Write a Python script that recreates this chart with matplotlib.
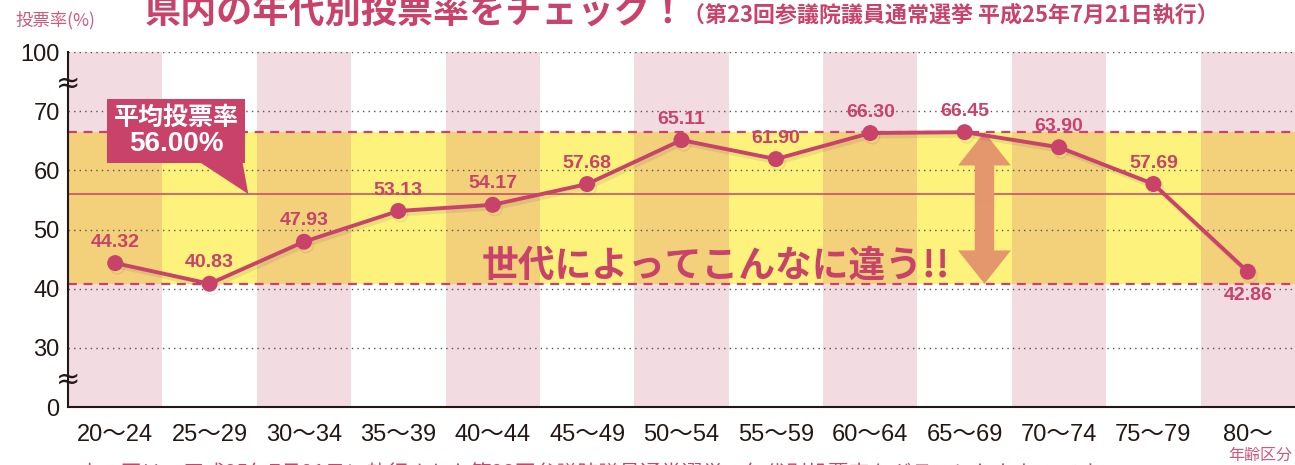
import numpy as np
import matplotlib.pyplot as plt
from matplotlib import patheffects as pe
from matplotlib.patches import FancyArrowPatch
from matplotlib.offsetbox import TextArea, VPacker, AnnotationBbox

plt.rcParams['font.family'] = ['Liberation Sans', 'Noto Sans CJK JP']

# data
ages = ['20〜24', '25〜29', '30〜34', '35〜39', '40〜44', '45〜49', '50〜54',
        '55〜59', '60〜64', '65〜69', '70〜74', '75〜79', '80〜']
turnout = [44.32, 40.83, 47.93, 53.13, 54.17, 57.68, 65.11,
           61.90, 66.30, 66.45, 63.90, 57.69, 42.86]
average = 56.00
yticks = [0, 30, 40, 50, 60, 70, 100]

MAG = '#c8426a'
PINK = '#f3dbe2'
YEL = '#fdf37c'
ORG = '#f3d07a'
INK = '#231815'


# broken y axis: each tick gets the same height
def fwd(v):
    return np.interp(v, yticks, np.arange(len(yticks)))


def inv(p):
    return np.interp(p, np.arange(len(yticks)), yticks)


fig = plt.figure(figsize=(12.95, 4.65), dpi=100)
ax = fig.add_axes([68 / 1295, 1 - 407 / 465, 1 - 68 / 1295, (407 - 52) / 465])
ax.set_yscale('function', functions=(fwd, inv))

x = np.arange(len(ages))
lo, hi = min(turnout), max(turnout)

# stripes
stripe = [PINK if i % 2 == 0 else 'white' for i in x]
band = [ORG if i % 2 == 0 else YEL for i in x]
ax.bar(x, 100, width=1.0, color=stripe, zorder=0.5)
ax.bar(x, hi - lo, bottom=lo, width=1.0, color=band, zorder=0.6)

ax.set_xlim(-0.5, len(ages) - 0.5)
ax.set_ylim(0, 100)
ax.set_yticks(yticks)
ax.set_xticks(x, ages)
ax.tick_params(length=0, labelsize=17, colors=INK)
ax.tick_params(axis='y', pad=6)
ax.tick_params(axis='x', pad=12)
ax.set_axisbelow('line')
ax.grid(axis='y', linestyle=(0, (1, 3)), color='#555555', linewidth=1)
for s in ['top', 'right']:
    ax.spines[s].set_visible(False)
for s in ['left', 'bottom']:
    ax.spines[s].set_linewidth(1.5)
    ax.spines[s].set_color(INK)

# band edges and average
for v in (lo, hi):
    ax.axhline(v, color=MAG, linestyle=(0, (4, 3)), linewidth=1.6, zorder=1.7)
ax.axhline(average, color=MAG, linewidth=1.1, zorder=1.7)

# axis break marks
for v in (84, 13.7):
    ax.text(-0.5, v, '≈', ha='center', va='center', fontsize=21, color=INK,
            family='DejaVu Sans', clip_on=False, zorder=6)

# main line
ax.plot(x, turnout, '-o', color=MAG, lw=2.8, markersize=10.5, zorder=3,
        path_effects=[pe.SimpleLineShadow(offset=(1.5, -2.5), shadow_color='#555555', alpha=0.12),
                      pe.Normal()])

for i, v in enumerate(turnout):
    dy = -17 if i == len(turnout) - 1 else 15
    ax.annotate(f'{v:.2f}', (x[i], v), xytext=(0, dy), textcoords='offset points',
                ha='center', va='center', fontsize=14, fontweight='bold',
                color=MAG, zorder=4)

# average callout
t1 = TextArea('平均投票率', textprops=dict(color='white', fontsize=18, fontweight='bold'))
t2 = TextArea(f'{average:.2f}%', textprops=dict(color='white', fontsize=20, fontweight='bold'))
pack = VPacker(children=[t1, t2], align='center', pad=0, sep=1)
ab = AnnotationBbox(pack, (1.41, average), xybox=(0.645, 66.6), xycoords='data',
                    boxcoords='data', frameon=True, pad=0.45,
                    bboxprops=dict(boxstyle='square,pad=0.45', fc=MAG, ec='none'),
                    arrowprops=dict(arrowstyle='wedge,tail_width=1.4,shrink_factor=0.5',
                                    fc=MAG, ec='none', relpos=(0.8, 0.3), patchA=None,
                                    shrinkA=0, shrinkB=0, mutation_scale=20),
                    zorder=5)
ax.add_artist(ab)

# spread arrow between min and max
mid = (lo + hi) / 2
for end in (hi, lo):
    ax.add_patch(FancyArrowPatch((9.21, mid), (9.21, end),
                                 arrowstyle='simple,head_length=24,head_width=38,tail_width=14',
                                 mutation_scale=1, color='#e4966c', lw=0, zorder=2.5,
                                 shrinkA=0, shrinkB=0))

ax.text(6.36, 43.8, '世代によってこんなに違う!!', ha='center', va='center',
        fontsize=26.5, fontweight='bold', color=MAG, zorder=4,
        family=['Noto Sans CJK JP'])

# titles and notes
fig.text(145 / 1295, 1 - 12 / 465, '県内の年代別投票率をチェック！', ha='left', va='center',
         fontsize=26, fontweight='bold', color=MAG, family=['Noto Sans CJK JP'])
fig.text(683 / 1295, 1 - 15 / 465, '（第23回参議院議員通常選挙 平成25年7月21日執行）',
         ha='left', va='center', fontsize=15.8, fontweight='bold', color=MAG,
         family=['Noto Sans CJK JP'])
fig.text(15 / 1295, 1 - 20 / 465, '投票率(%)', ha='left', va='center', fontsize=12.5,
         color='#d0587a', family=['Noto Sans CJK JP'])
fig.text(1292 / 1295, 1 - 455 / 465, '年齢区分', ha='right', va='center', fontsize=11.5,
         color='#d0587a', family=['Noto Sans CJK JP'])
fig.text(80 / 1295, 1 - 475 / 465,
         '上の図は、平成25年7月21日に執行された第23回参議院議員通常選挙の年代別投票率をグラフにしたものです。',
         ha='left', va='center', fontsize=15, color=MAG, family=['Noto Sans CJK JP'])

fig.savefig('out.png', dpi=100)
